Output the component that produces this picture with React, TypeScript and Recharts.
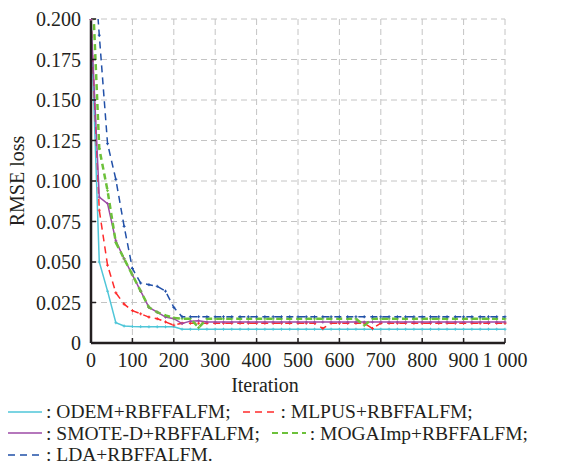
import { CartesianGrid, Legend, Line, LineChart, XAxis, YAxis } from 'recharts';

const iterations = [
  0, 20, 40, 60, 80, 100, 120, 140, 160, 180,
  200, 220, 240, 260, 280, 300, 320, 340, 360, 380,
  400, 420, 440, 460, 480, 500, 520, 540, 560, 580,
  600, 620, 640, 660, 680, 700, 720, 740, 760, 780,
  800, 820, 840, 860, 880, 900, 920, 940, 960, 980,
  1000,
];

const odem = [
  0.2, 0.05, 0.032, 0.0125, 0.0105, 0.0102, 0.0101, 0.01, 0.01, 0.01,
  0.01, 0.0085, 0.0085, 0.0085, 0.0085, 0.0085, 0.0085, 0.0085, 0.0085, 0.0085,
  0.0085, 0.0085, 0.0085, 0.0085, 0.0085, 0.0085, 0.0085, 0.0085, 0.0085, 0.0085,
  0.0085, 0.0085, 0.0085, 0.0085, 0.0085, 0.0085, 0.0085, 0.0085, 0.0085, 0.0085,
  0.0085, 0.0085, 0.0085, 0.0085, 0.0085, 0.0085, 0.0085, 0.0085, 0.0085, 0.0085,
  0.0085,
];

const mlpus = [
  0.2, 0.082, 0.048, 0.031, 0.024, 0.02, 0.018, 0.016, 0.015, 0.013,
  0.011, 0.0122, 0.0122, 0.0122, 0.0122, 0.0122, 0.0122, 0.0122, 0.0122, 0.0122,
  0.0122, 0.0122, 0.0122, 0.0122, 0.0122, 0.0122, 0.0122, 0.0122, 0.009, 0.0122,
  0.0122, 0.0122, 0.0122, 0.0122, 0.009, 0.0122, 0.0122, 0.0122, 0.0122, 0.0122,
  0.0122, 0.0122, 0.0122, 0.0122, 0.0122, 0.0122, 0.0122, 0.0122, 0.0122, 0.0122,
  0.0122,
];

const smote = [
  0.2, 0.09, 0.086, 0.063, 0.052, 0.042, 0.032, 0.022, 0.019, 0.016,
  0.015, 0.012, 0.0135, 0.0138, 0.0129, 0.0129, 0.0129, 0.0129, 0.0129, 0.0129,
  0.0129, 0.0129, 0.0129, 0.0129, 0.0129, 0.0129, 0.0129, 0.0129, 0.0129, 0.0129,
  0.0129, 0.0129, 0.0129, 0.0129, 0.0129, 0.0129, 0.0129, 0.0129, 0.0129, 0.0129,
  0.0129, 0.0129, 0.0129, 0.0129, 0.0129, 0.0129, 0.0129, 0.0129, 0.0129, 0.0129,
  0.0129,
];

const mogaimp = [
  0.24, 0.12, 0.094, 0.062, 0.052, 0.042, 0.032, 0.022, 0.019, 0.017,
  0.0155, 0.015, 0.015, 0.0095, 0.0149, 0.0149, 0.0149, 0.0149, 0.0149, 0.0149,
  0.0149, 0.0149, 0.0149, 0.0149, 0.0149, 0.0149, 0.0149, 0.0149, 0.0149, 0.0149,
  0.0149, 0.0149, 0.0149, 0.011, 0.0149, 0.0149, 0.0149, 0.0149, 0.0149, 0.0149,
  0.0149, 0.0149, 0.0149, 0.0149, 0.0149, 0.0149, 0.0149, 0.0149, 0.0149, 0.0149,
  0.0149,
];

const lda = [
  0.26, 0.19, 0.123, 0.101, 0.072, 0.046, 0.037, 0.036, 0.035, 0.032,
  0.022, 0.0162, 0.0162, 0.0162, 0.0162, 0.0162, 0.0162, 0.0162, 0.0162, 0.0162,
  0.0162, 0.0162, 0.0162, 0.0162, 0.0162, 0.0162, 0.0162, 0.0162, 0.0162, 0.0162,
  0.0162, 0.0162, 0.0162, 0.0162, 0.0162, 0.0162, 0.0162, 0.0162, 0.0162, 0.0162,
  0.0162, 0.0162, 0.0162, 0.0162, 0.0162, 0.0162, 0.0162, 0.0162, 0.0162, 0.0162,
  0.0162,
];

const xTicks = [0, 100, 200, 300, 400, 500, 600, 700, 800, 900, 1000];
const yTicks = [0, 0.025, 0.05, 0.075, 0.1, 0.125, 0.15, 0.175, 0.2];

const series = [
  { key: 'odem', name: 'ODEM+RBFFALFM;', color: '#4fc6d8', dash: undefined, width: 1.5 },
  { key: 'mlpus', name: 'MLPUS+RBFFALFM;', color: '#ff2b2b', dash: '7 5', width: 1.5 },
  { key: 'smote', name: 'SMOTE-D+RBFFALFM;', color: '#9c4aa6', dash: undefined, width: 1.5 },
  { key: 'mogaimp', name: 'MOGAImp+RBFFALFM;', color: '#6cc13a', dash: '6 4', width: 2.5 },
  { key: 'lda', name: 'LDA+RBFFALFM.', color: '#2150a8', dash: '7 5', width: 1.5 },
];

const legendRows = [['odem', 'mlpus'], ['smote', 'mogaimp'], ['lda']];

const rows = iterations.map((it, i) => ({
  iteration: it,
  odem: odem[i],
  mlpus: mlpus[i],
  smote: smote[i],
  mogaimp: mogaimp[i],
  lda: lda[i],
}));

const fontFamily = 'Liberation Serif';
const ink = '#231f20';
const tickStyle = { fill: ink, fontSize: 20, fontFamily };

function formatX(v: number): string {
  return v >= 1000 ? `${Math.floor(v / 1000)} ${String(v % 1000).padStart(3, '0')}` : String(v);
}

function formatY(v: number): string {
  return v === 0 ? '0' : v.toFixed(3);
}

// little "+" marks on every data point, as in the original plot
function marker(color: string) {
  return (p: any) => (
    <path
      key={`${color}-${p.index}`}
      d={`M${p.cx - 1.5},${p.cy}h3M${p.cx},${p.cy - 1.5}v3`}
      stroke={color}
      strokeWidth={1}
      fill="none"
    />
  );
}

function LegendBox() {
  return (
    <div style={{ fontFamily, fontSize: 19.5, color: ink, lineHeight: '21.5px' }}>
      {legendRows.map((row, r) => (
        <div key={r} style={{ display: 'flex', alignItems: 'center', whiteSpace: 'nowrap' }}>
          {row.map((k) => {
            const s = series.find((x) => x.key === k)!;
            return (
              <span key={k} style={{ display: 'inline-flex', alignItems: 'center', marginRight: 12 }}>
                <svg width={34} height={10}>
                  <line
                    x1={0}
                    y1={5}
                    x2={34}
                    y2={5}
                    stroke={s.color}
                    strokeWidth={Math.min(s.width, 2)}
                    strokeDasharray={s.dash}
                  />
                </svg>
                <span style={{ marginLeft: 4 }}>: {s.name}</span>
              </span>
            );
          })}
        </div>
      ))}
    </div>
  );
}

export default function App() {
  return (
    <div style={{ position: 'absolute', left: 0, top: 0, width: 587, height: 467, background: '#fff' }}>
      <LineChart width={587} height={467} data={rows} margin={{ top: 19, right: 82, bottom: 94, left: 0 }}>
        <CartesianGrid stroke="#c4c4c4" strokeDasharray="6 4" strokeWidth={1} />
        <XAxis
          dataKey="iteration"
          type="number"
          domain={[0, 1000]}
          ticks={xTicks}
          interval={0}
          tickFormatter={formatX}
          height={30}
          tick={tickStyle}
          tickSize={-5}
          tickMargin={15}
          tickLine={{ stroke: ink, strokeWidth: 1.5 }}
          axisLine={{ stroke: ink, strokeWidth: 2.5 }}
          label={{ value: 'Iteration', position: 'bottom', offset: 5, dx: -33, fill: ink, fontSize: 20, fontFamily }}
        />
        <XAxis
          xAxisId="top"
          orientation="top"
          dataKey="iteration"
          type="number"
          domain={[0, 1000]}
          ticks={xTicks}
          height={0}
          tick={false}
          tickLine={false}
          axisLine={{ stroke: ink, strokeWidth: 2.5 }}
        />
        <YAxis
          type="number"
          domain={[0, 0.2]}
          allowDataOverflow
          ticks={yTicks}
          interval={0}
          tickFormatter={formatY}
          width={91}
          tick={tickStyle}
          tickSize={-5}
          tickMargin={15}
          tickLine={{ stroke: ink, strokeWidth: 1.5 }}
          axisLine={{ stroke: ink, strokeWidth: 2.5 }}
          label={{
            value: 'RMSE loss',
            angle: -90,
            position: 'insideLeft',
            offset: 17,
            fill: ink,
            fontSize: 20,
            fontFamily,
            style: { textAnchor: 'middle' },
          }}
        />
        <YAxis
          yAxisId="right"
          orientation="right"
          type="number"
          domain={[0, 0.2]}
          width={0}
          tick={false}
          tickLine={false}
          axisLine={{ stroke: ink, strokeWidth: 2.5 }}
        />
        {series.map((s) => (
          <Line
            key={s.key}
            type="linear"
            dataKey={s.key}
            name={s.name}
            stroke={s.color}
            strokeWidth={s.width}
            strokeDasharray={s.dash}
            dot={marker(s.color)}
            activeDot={false}
            isAnimationActive={false}
          />
        ))}
        <Legend
          layout="vertical"
          verticalAlign="middle"
          align="center"
          content={() => <LegendBox />}
          wrapperStyle={{ top: 401, left: 8, width: 579 }}
        />
      </LineChart>
    </div>
  );
}
